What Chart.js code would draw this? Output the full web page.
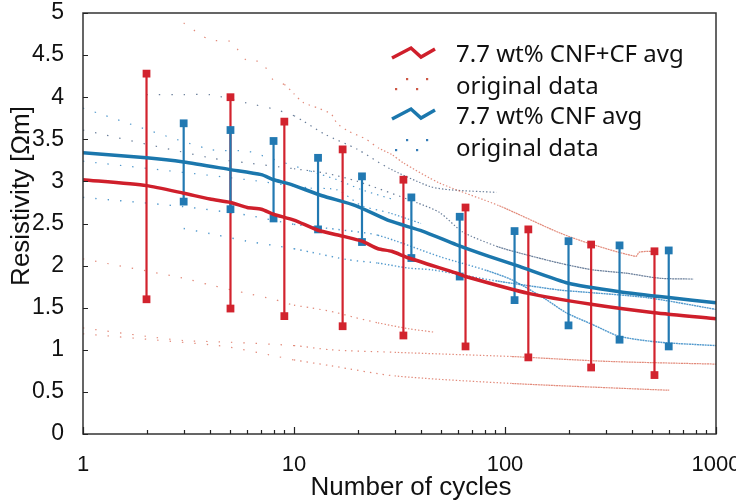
<!DOCTYPE html>
<html>
<head>
<meta charset="utf-8">
<script src="https://cdn.jsdelivr.net/npm/chart.js@4.4.1/dist/chart.umd.min.js"></script>
<style>
  html, body { margin: 0; background: #fff; }
  #wrap { width: 736px; height: 500px; }
</style>
</head>
<body>
<div id="wrap"><canvas id="chart"></canvas></div>
<script>
// averaged curves [cycles, resistivity]
const redAvg = [[1,3.02],[2,2.95],[3,2.86],[4,2.79],[5,2.75],[6,2.69],[7,2.67],[8,2.61],[10,2.54],[13,2.42],[17,2.35],[21,2.29],[25,2.2],[29,2.17],[35,2.09],[59,1.91],[65,1.87],[129,1.67],[256,1.54],[511,1.44],[1000,1.37]]
const blueAvg = [[1,3.34],[2,3.28],[3,3.23],[5,3.14],[7,3.08],[8,3.02],[9.5,2.97],[13.6,2.83],[19.7,2.71],[28.5,2.53],[40.6,2.41],[58.6,2.25],[84,2.11],[117,1.99],[200,1.79],[349,1.69],[597,1.62],[1000,1.56]]

// error bars
const redBarX = [2, 5, 9, 17, 33, 65, 129, 256, 511]
const redBarLow = [1.6, 1.49, 1.4, 1.28, 1.17, 1.04, 0.91, 0.79, 0.7]
const redBarHigh = [4.28, 4.0, 3.71, 3.38, 3.02, 2.69, 2.43, 2.25, 2.17]
const blueBarX = [3, 5, 8, 13, 21, 36, 61, 111, 200, 349, 597]
const blueBarLow = [2.76, 2.67, 2.56, 2.43, 2.28, 2.09, 1.87, 1.59, 1.29, 1.12, 1.04]
const blueBarHigh = [3.69, 3.61, 3.48, 3.28, 3.06, 2.81, 2.58, 2.41, 2.29, 2.24, 2.18]

// original data runs
const redOrig1 = [[3,4.88],[4,4.68],[5,4.66],[6,4.43],[7,4.42],[8,4.2],[9,4.15],[10,4.04],[11,3.94],[13,3.87],[15,3.8],[16,3.69],[18,3.6],[22,3.5],[25,3.4],[29,3.32],[33,3.22],[49,2.98],[94,2.71],[181,2.39],[260,2.25],[417,2.11],[433,2.16],[510,2.17]]
const redOrig2 = [[1,2.08],[3,1.85],[4,1.77],[6,1.67],[8,1.6],[10,1.53],[12,1.5],[16,1.44],[19,1.39],[25,1.32],[35,1.25],[46,1.21]]
const redOrig3 = [[1,1.26],[2,1.16],[3,1.11],[5,1.09],[10,1.05],[15,1.0],[30,0.97],[108,0.92],[181,0.89],[324,0.86],[1000,0.83]]
const redOrig4 = [[1,1.19],[4,1.06],[5,1.03],[8,0.93],[10,0.88],[15,0.81],[30,0.69],[108,0.6],[470,0.53],[600,0.52]]
const blueOrig1 = [[2,4.03],[3,4.03],[4,4.03],[6,3.93],[8,3.86],[10,3.78],[11,3.72],[14,3.56],[20,3.38],[28,3.16],[44,2.94],[55,2.9],[91,2.87]]
const blueOrig2 = [[1,3.61],[4,3.28],[6,3.22],[10,3.15],[14,3.1],[20,3.0],[38,2.75],[49,2.63],[63,2.4],[91,2.23],[117,2.15],[181,2.03],[260,1.95],[375,1.91],[540,1.85],[780,1.84]]
const blueOrig3 = [[1,3.87],[4,3.38],[6,3.36],[7,3.31],[12,3.12],[16,3.02],[21,2.9],[30,2.78]]
const blueOrig4 = [[1,3.24],[6,3.02],[12,2.92],[16,2.9],[21,2.71],[28,2.63],[40,2.5]]
const blueOrig5 = [[1,2.81],[3,2.7],[6,2.6],[10,2.49],[16,2.43],[25,2.36],[50,2.1],[80,1.95],[108,1.83],[156,1.6],[195,1.44],[260,1.3],[349,1.16],[540,1.09],[1000,1.05]]
const blueOrig6 = [[3,2.44],[4,2.38],[6,2.29],[8,2.24],[10,2.2],[12,2.16],[18,2.07],[25,2.03],[35,1.97],[45,1.95],[90,1.82],[181,1.71],[225,1.69],[470,1.62],[1000,1.48]]

const xLabels = [1, 10, 100, 1000]
const legendLabels = ["7.7 wt% CNF+CF avg", "original data", "7.7 wt% CNF avg", "original data"]

const RED = "#cf1f2b"
const BLUE = "#1b77ad"
const RED_DOT = "rgba(214,88,66,0.7)"
const GRAY_DOT = "rgba(66,92,128,0.8)"
const LIGHT_DOT = "rgba(38,128,192,0.8)"

const pts = (arr) => arr.map(([x, y]) => ({ x, y }))

function bars(xs, lo, hi, color) {
  const data = []
  xs.forEach((x, i) => { data.push({ x, y: lo[i] }, { x, y: hi[i] }, { x, y: null }) })
  return {
    data, borderColor: color, backgroundColor: color, borderWidth: 2.2,
    pointStyle: "rect", pointRadius: 5.5, pointBorderWidth: 0, spanGaps: false, tension: 0
  }
}

// dots are sparse at low cycle numbers and dense later on
function orig(arr, color, width) {
  return {
    data: pts(arr), borderColor: color, borderWidth: width || 1.2, pointRadius: 0, tension: 0.25,
    segment: {
      borderDash: (ctx) => {
        const x = ctx.p0.parsed.x
        if (x < 9) return [1.4, 11]
        if (x < 25) return [1.4, 5]
        if (x < 80) return [1.4, 2]
        return [2, 0.6]
      }
    }
  }
}

// frame, inward ticks, axis titles and legend
const decorations = {
  id: "decorations",
  afterDraw(chart) {
    const { ctx, chartArea: a, scales: { x, y } } = chart
    ctx.save()
    ctx.strokeStyle = "#333"
    ctx.lineWidth = 1.5
    ctx.strokeRect(a.left, a.top, a.right - a.left, a.bottom - a.top)

    ctx.lineWidth = 1.2
    ctx.strokeStyle = "#222"
    ctx.beginPath()
    for (let v = 0; v <= 5; v += 0.5) {
      const py = Math.round(y.getPixelForValue(v)) + 0.5
      ctx.moveTo(a.left, py); ctx.lineTo(a.left + 5, py)
    }
    for (let d = 1; d <= 1000; d *= 10) {
      for (let m = 1; m <= 9; m++) {
        const v = d * m
        if (v > 1000) break
        const px = Math.round(x.getPixelForValue(v)) + 0.5
        ctx.moveTo(px, a.bottom); ctx.lineTo(px, a.bottom - (m === 1 ? 7 : 4))
      }
    }
    ctx.stroke()

    ctx.fillStyle = "#111"
    ctx.font = "26px 'Liberation Sans', Arial, sans-serif"
    ctx.textAlign = "center"
    ctx.textBaseline = "alphabetic"
    ctx.fillText("Number of cycles", 411, 495)
    ctx.save()
    ctx.translate(29, 196)
    ctx.rotate(-Math.PI / 2)
    ctx.fillText("Resistivity [\u03A9m]", 0, 0)
    ctx.restore()

    // legend
    const zig = (y0, color) => {
      ctx.strokeStyle = color
      ctx.lineWidth = 3.5
      ctx.lineJoin = "miter"
      ctx.beginPath()
      ctx.moveTo(392, y0 + 5); ctx.lineTo(411, y0 - 5); ctx.lineTo(421, y0 + 4); ctx.lineTo(435, y0 - 4)
      ctx.stroke()
    }
    const dots = (y0, color) => {
      ctx.fillStyle = color
      ;[[396, 5], [407, -5], [417, 5], [427, -5]].forEach(([px, dy]) => ctx.fillRect(px - 1, y0 + dy - 1, 2.2, 2.2))
    }
    zig(53, RED)
    dots(84, "rgba(200,70,50,0.9)")
    zig(114, BLUE)
    dots(145, "rgba(30,110,175,0.9)")

    ctx.fillStyle = "#111"
    ctx.font = "24px 'Noto Sans', 'Open Sans', sans-serif"
    ctx.textAlign = "left"
    const baselines = [62, 94, 124, 156]
    legendLabels.forEach((t, i) => ctx.fillText(t, 456, baselines[i]))
    ctx.restore()
  }
}

new Chart(document.getElementById("chart"), {
  type: "line",
  data: {
    datasets: [
      { data: pts(redAvg), borderColor: RED, borderWidth: 3.5, pointRadius: 0, tension: 0.2 },
      { data: pts(blueAvg), borderColor: BLUE, borderWidth: 3.5, pointRadius: 0, tension: 0.2 },
      bars(blueBarX, blueBarLow, blueBarHigh, "#2279b2"),
      bars(redBarX, redBarLow, redBarHigh, "#d2232e"),
      orig(redOrig1, RED_DOT),
      orig(redOrig2, RED_DOT),
      orig(redOrig3, RED_DOT),
      orig(redOrig4, RED_DOT),
      orig(blueOrig1, GRAY_DOT),
      orig(blueOrig2, GRAY_DOT),
      orig(blueOrig3, LIGHT_DOT),
      orig(blueOrig4, LIGHT_DOT),
      orig(blueOrig5, LIGHT_DOT, 1.4),
      orig(blueOrig6, LIGHT_DOT, 1.4)
    ]
  },
  options: {
    responsive: true,
    maintainAspectRatio: false,
    animation: false,
    layout: { padding: { top: 13, right: 20, left: 0, bottom: 0 } },
    plugins: { legend: { display: false }, tooltip: { enabled: false } },
    scales: {
      x: {
        type: "logarithmic", min: 1, max: 1000,
        grid: { display: false }, border: { display: false },
        afterBuildTicks: (s) => { s.ticks = xLabels.map((v) => ({ value: v })) },
        afterFit: (s) => { s.height = 66; s.paddingLeft = 0; s.paddingRight = 0 },
        ticks: {
          autoSkip: false, maxRotation: 0, padding: 10, color: "#111",
          font: { family: "'Liberation Sans', Arial, sans-serif", size: 22 },
          callback: (v) => String(v)
        }
      },
      y: {
        min: 0, max: 5,
        grid: { display: false }, border: { display: false },
        afterFit: (s) => { s.width = 83; s.paddingTop = 0; s.paddingBottom = 0 },
        ticks: {
          stepSize: 0.5, padding: 11, color: "#111",
          font: { family: "'Liberation Sans', Arial, sans-serif", size: 23 },
          callback: (v) => String(Math.round(v * 10) / 10)
        }
      }
    }
  },
  plugins: [decorations]
})
</script>
</body>
</html>
